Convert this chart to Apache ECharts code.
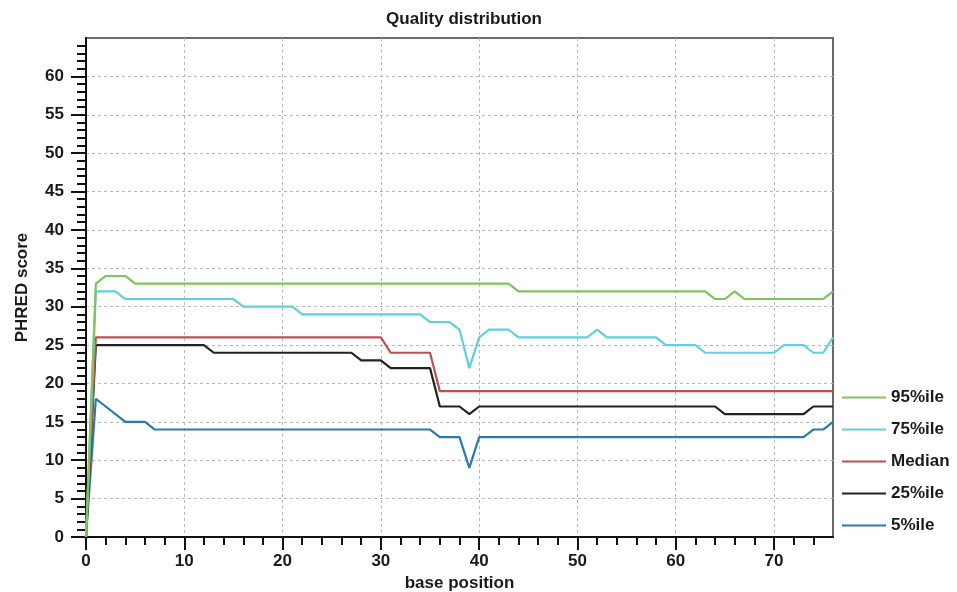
<!DOCTYPE html>
<html>
<head>
<meta charset="utf-8">
<script src="https://cdn.jsdelivr.net/npm/echarts@6/dist/echarts.min.js"></script>
<style>
  html, body { margin: 0; padding: 0; background: #fff; }
  #chart { width: 957px; height: 592px; }
</style>
</head>
<body>
<div id="chart"></div>
<script>
// PHRED quality percentiles per base position (positions 0..76)
const seriesNames = ['95%ile', '75%ile', 'Median', '25%ile', '5%ile'];
const seriesColors = ['#7cc65a', '#5fd0e0', '#c05050', '#222222', '#2a7ab0'];

const p95 = [0, 33, 34, 34, 34, 33, 33, 33, 33, 33,
  33, 33, 33, 33, 33, 33, 33, 33, 33, 33,
  33, 33, 33, 33, 33, 33, 33, 33, 33, 33,
  33, 33, 33, 33, 33, 33, 33, 33, 33, 33,
  33, 33, 33, 33, 32, 32, 32, 32, 32, 32,
  32, 32, 32, 32, 32, 32, 32, 32, 32, 32,
  32, 32, 32, 32, 31, 31, 32, 31, 31, 31,
  31, 31, 31, 31, 31, 31, 32];

const p75 = [0, 32, 32, 32, 31, 31, 31, 31, 31, 31,
  31, 31, 31, 31, 31, 31, 30, 30, 30, 30,
  30, 30, 29, 29, 29, 29, 29, 29, 29, 29,
  29, 29, 29, 29, 29, 28, 28, 28, 27, 22,
  26, 27, 27, 27, 26, 26, 26, 26, 26, 26,
  26, 26, 27, 26, 26, 26, 26, 26, 26, 25,
  25, 25, 25, 24, 24, 24, 24, 24, 24, 24,
  24, 25, 25, 25, 24, 24, 26];

const median = [0, 26, 26, 26, 26, 26, 26, 26, 26, 26,
  26, 26, 26, 26, 26, 26, 26, 26, 26, 26,
  26, 26, 26, 26, 26, 26, 26, 26, 26, 26,
  26, 24, 24, 24, 24, 24, 19, 19, 19, 19,
  19, 19, 19, 19, 19, 19, 19, 19, 19, 19,
  19, 19, 19, 19, 19, 19, 19, 19, 19, 19,
  19, 19, 19, 19, 19, 19, 19, 19, 19, 19,
  19, 19, 19, 19, 19, 19, 19];

const p25 = [0, 25, 25, 25, 25, 25, 25, 25, 25, 25,
  25, 25, 25, 24, 24, 24, 24, 24, 24, 24,
  24, 24, 24, 24, 24, 24, 24, 24, 23, 23,
  23, 22, 22, 22, 22, 22, 17, 17, 17, 16,
  17, 17, 17, 17, 17, 17, 17, 17, 17, 17,
  17, 17, 17, 17, 17, 17, 17, 17, 17, 17,
  17, 17, 17, 17, 17, 16, 16, 16, 16, 16,
  16, 16, 16, 16, 17, 17, 17];

const p5 = [0, 18, 17, 16, 15, 15, 15, 14, 14, 14,
  14, 14, 14, 14, 14, 14, 14, 14, 14, 14,
  14, 14, 14, 14, 14, 14, 14, 14, 14, 14,
  14, 14, 14, 14, 14, 14, 13, 13, 13, 9,
  13, 13, 13, 13, 13, 13, 13, 13, 13, 13,
  13, 13, 13, 13, 13, 13, 13, 13, 13, 13,
  13, 13, 13, 13, 13, 13, 13, 13, 13, 13,
  13, 13, 13, 13, 14, 14, 15];

// Axis ticks and labels
const xMajorTicks = [0, 10, 20, 30, 40, 50, 60, 70];
const xMinorTicks = [2, 4, 6, 8, 12, 14, 16, 18, 22, 24, 26, 28, 32, 34, 36, 38,
  42, 44, 46, 48, 52, 54, 56, 58, 62, 64, 66, 68, 72, 74];
const yMajorTicks = [0, 5, 10, 15, 20, 25, 30, 35, 40, 45, 50, 55, 60];
const yMinorTicks = [];
for (let v = 1; v < 65; v++) if (v % 5 !== 0) yMinorTicks.push(v);

const allValues = [p95, p75, median, p25, p5];
const FONT = "'Liberation Sans', Arial, sans-serif";
const labelStyle = { color: '#1a1a1a', fontSize: 17, fontWeight: 'bold', fontFamily: FONT };
const gridLine = { show: true, lineStyle: { color: '#b8b8b8', width: 1, type: [3, 3] } };

const chart = echarts.init(document.getElementById('chart'), null, { renderer: 'canvas' });

chart.setOption({
  animation: false,
  backgroundColor: '#ffffff',
  title: {
    text: 'Quality distribution',
    left: 459,
    top: 6,
    textAlign: 'center',
    textStyle: { color: '#1a1a1a', fontSize: 17, fontWeight: 'bold', fontFamily: FONT }
  },
  legend: {
    orient: 'vertical',
    left: 842,
    top: 389,
    padding: 0,
    icon: 'rect',
    itemWidth: 44,
    itemHeight: 2,
    itemGap: 15,
    data: seriesNames,
    textStyle: labelStyle
  },
  grid: {
    left: 86, right: 124, top: 38, bottom: 55,
    containLabel: false,
    outerBoundsMode: 'none',
    show: true, borderColor: '#6a6a6a', borderWidth: 2, backgroundColor: '#ffffff'
  },
  xAxis: [
    {
      type: 'value', min: 0, max: 76, interval: 10, position: 'bottom',
      name: 'base position', nameLocation: 'middle', nameGap: 38,
      nameTextStyle: labelStyle,
      axisLine: { show: true, onZero: false, lineStyle: { color: '#111', width: 2 } },
      axisTick: { show: true, length: 13, customValues: xMajorTicks, lineStyle: { color: '#111', width: 2 } },
      axisLabel: { customValues: xMajorTicks, margin: 16, ...labelStyle },
      splitLine: gridLine
    },
    {
      type: 'value', min: 0, max: 76, position: 'bottom',
      axisLine: { show: false },
      axisTick: { show: true, length: 8, customValues: xMinorTicks, lineStyle: { color: '#111', width: 2 } },
      axisLabel: { show: false },
      splitLine: { show: false }
    }
  ],
  yAxis: [
    {
      type: 'value', min: 0, max: 65, interval: 5, position: 'left',
      name: 'PHRED score', nameLocation: 'middle', nameGap: 55,
      nameTextStyle: labelStyle,
      axisLine: { show: true, onZero: false, lineStyle: { color: '#111', width: 2 } },
      axisTick: { show: true, length: 15, customValues: yMajorTicks, lineStyle: { color: '#111', width: 2 } },
      axisLabel: { customValues: yMajorTicks, margin: 22, ...labelStyle },
      splitLine: gridLine
    },
    {
      type: 'value', min: 0, max: 65, position: 'left',
      axisLine: { show: false },
      axisTick: { show: true, length: 9, customValues: yMinorTicks, lineStyle: { color: '#111', width: 2 } },
      axisLabel: { show: false },
      splitLine: { show: false }
    }
  ],
  series: seriesNames.map((name, k) => ({
    name: name,
    type: 'line',
    xAxisIndex: 0,
    yAxisIndex: 0,
    symbol: 'none',
    color: seriesColors[k],
    lineStyle: { color: seriesColors[k], width: 2.2 },
    z: 10 - k,
    data: allValues[k].map((v, i) => [i, v])
  }))
});
</script>
</body>
</html>
